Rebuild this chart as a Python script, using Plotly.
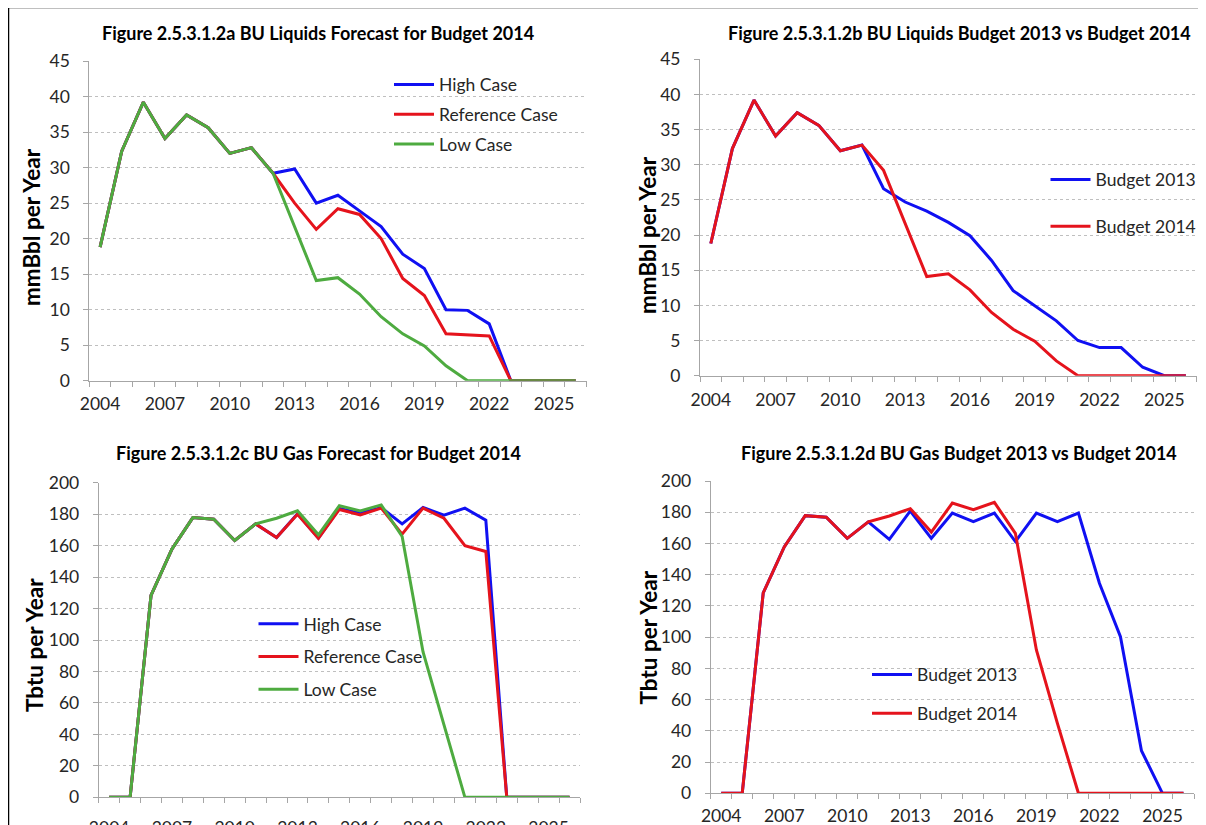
import plotly.graph_objects as go

# the page is drawn 8 px in from the window's top-left corner
OFF = 8
W, H = 1206 - OFF, 825 - OFF

years = list(range(2004, 2027))
tick_years = [2004, 2007, 2010, 2013, 2016, 2019, 2022, 2025]
tick_labels = ["2004", "2007", "2010", "2013", "2016", "2019", "2022", "2025"]

# Panel a: BU Liquids Forecast for Budget 2014 (mmBbl per year)
liq_high = [18.8, 32.3, 39.2, 34.1, 37.4, 35.6, 32.0, 32.8, 29.2, 29.8, 25.0, 26.1,
            23.9, 21.7, 17.8, 15.8, 10.0, 9.9, 8.0, 0, 0, 0, 0]
liq_ref = [18.8, 32.3, 39.2, 34.1, 37.4, 35.6, 32.0, 32.8, 29.2, 25.0, 21.3, 24.2,
           23.4, 20.0, 14.4, 12.0, 6.6, 6.4, 6.3, 0, 0, 0, 0]
liq_low = [18.8, 32.3, 39.2, 34.1, 37.4, 35.6, 32.0, 32.8, 29.2, 21.6, 14.1, 14.5,
           12.2, 9.0, 6.6, 4.9, 2.1, 0, 0, 0, 0, 0, 0]

# Panel b: BU Liquids Budget 2013 vs Budget 2014
liq_b2013 = [18.8, 32.3, 39.2, 34.1, 37.4, 35.6, 32.0, 32.8, 26.6, 24.7, 23.4, 21.8,
             19.9, 16.4, 12.1, 10.0, 7.8, 5.0, 4.0, 4.0, 1.2, 0, 0]
liq_b2014 = [18.8, 32.3, 39.2, 34.1, 37.4, 35.6, 32.0, 32.8, 29.2, 21.6, 14.1, 14.5,
             12.2, 9.0, 6.6, 4.9, 2.1, 0, 0, 0, 0, 0, 0]

# Panel c: BU Gas Forecast for Budget 2014 (Tbtu per year)
gas_high = [0, 0, 128.3, 157.8, 177.8, 176.8, 163.3, 173.8, 165.2, 180.3, 164.8, 183.6,
            180.6, 184.2, 173.8, 184.2, 179.4, 183.8, 176.2, 0, 0, 0, 0]
gas_ref = [0, 0, 128.3, 157.8, 177.8, 176.8, 163.3, 173.8, 165.2, 180.0, 164.6, 183.0,
           179.5, 183.8, 167.3, 183.8, 177.4, 160.0, 156.3, 0, 0, 0, 0]
gas_low = [0, 0, 128.3, 157.8, 177.8, 176.8, 163.3, 173.8, 177.4, 182.1, 166.9, 185.4,
           182.1, 185.9, 165.8, 92.4, 46.0, 0, 0, 0, 0, 0, 0]

# Panel d: BU Gas Budget 2013 vs Budget 2014
gas_b2013 = [0, 0, 128.3, 157.8, 177.8, 176.8, 163.3, 173.8, 162.6, 180.8, 163.3, 179.5,
             174.0, 179.5, 161.2, 179.5, 174.0, 179.5, 134.5, 100.3, 27.3, 0, 0]
gas_b2014 = [0, 0, 128.3, 157.8, 177.8, 176.8, 163.3, 173.8, 177.6, 182.3, 167.3, 185.9,
             181.6, 186.3, 166.5, 91.8, 44.8, 0, 0, 0, 0, 0, 0]

titles = [
    "Figure 2.5.3.1.2a BU Liquids Forecast for Budget 2014",
    "Figure 2.5.3.1.2b BU Liquids Budget 2013 vs Budget 2014",
    "Figure 2.5.3.1.2c BU Gas Forecast for Budget 2014",
    "Figure 2.5.3.1.2d BU Gas Budget 2013 vs Budget 2014",
]

BLUE = "#1010F2"
RED = "#E5131C"
GREEN = "#4EAB40"
FONT = "Lato"
TXT = "#262626"
AX = "#A6A6A6"

def px_x(p):
    return (p - OFF) / W

def px_y(p):
    return 1 - (p - OFF) / H

# plot-area pixel boxes in window pixels: (left, right, top, bottom)
boxes = [
    (89.3, 586.5, 61.0, 380.7),
    (700.0, 1196.7, 59.3, 375.7),
    (98.7, 580.0, 482.7, 797.3),
    (710.7, 1194.0, 481.0, 793.3),
]

fig = go.Figure()

panels = [
    ("x", "y", "legend", [("High Case", liq_high, BLUE), ("Reference Case", liq_ref, RED), ("Low Case", liq_low, GREEN)]),
    ("x2", "y2", "legend2", [("Budget 2013", liq_b2013, BLUE), ("Budget 2014", liq_b2014, RED)]),
    ("x3", "y3", "legend3", [("High Case", gas_high, BLUE), ("Reference Case", gas_ref, RED), ("Low Case", gas_low, GREEN)]),
    ("x4", "y4", "legend4", [("Budget 2013", gas_b2013, BLUE), ("Budget 2014", gas_b2014, RED)]),
]

for i, (xa, ya, lg, series) in enumerate(panels):
    for name, vals, col in series:
        fig.add_trace(go.Scatter(
            x=years, y=vals, mode="lines", name=name,
            line=dict(color=col, width=3),
            xaxis=xa, yaxis=ya, legend=lg, legendgroup=f"{lg}-{name}",
            hoverinfo="skip",
        ))

layout = dict(
    width=W, height=H, autosize=False,
    margin=dict(l=0, r=0, t=0, b=0, pad=0, autoexpand=False),
    paper_bgcolor="white", plot_bgcolor="white",
    font=dict(family=FONT, color=TXT, size=15),
    showlegend=True,
)

yranges = [(0, 45, 5), (0, 45, 5), (0, 200, 20), (0, 200, 20)]
standoffs = [7, 8, 15, 7]
for i, (l, r, t, b) in enumerate(boxes):
    k = "" if i == 0 else str(i + 1)
    ymin, ymax, dt = yranges[i]
    layout["xaxis" + k] = dict(
        domain=[px_x(l), min(1.0, px_x(r))], anchor="y" + k,
        range=[2003.5, 2026.5], tickmode="array",
        tickvals=tick_years, ticktext=tick_labels, ticks="",
        showgrid=False, zeroline=False, showline=True, linecolor=AX, linewidth=1,
        minor=dict(ticks="outside", tick0=2003.5, dtick=1, ticklen=5, tickcolor=AX, showgrid=False),
        tickfont=dict(family=FONT, size=17.5, color=TXT),
        ticklabelstandoff=standoffs[i], automargin=False,
        fixedrange=True,
    )
    layout["yaxis" + k] = dict(
        domain=[max(0.0, px_y(b)), px_y(t)], anchor="x" + k,
        range=[ymin, ymax], dtick=dt, tick0=0,
        ticks="outside", ticklen=5, tickcolor=AX,
        showgrid=True, gridcolor="#BFBFBF", griddash="dot", gridwidth=1,
        zeroline=False, showline=True, linecolor=AX, linewidth=1,
        tickfont=dict(family=FONT, size=17.5, color=TXT),
        ticklabelstandoff=10, automargin=False,
        fixedrange=True,
    )

# (line start x px, first item centre y px, gap between items)
legend_pos = [
    (395, 85, 4),
    (1051.5, 180, 21),
    (259.5, 624.3, 7),
    (873, 675, 13),
]
for i, (lx, cy, gap) in enumerate(legend_pos):
    k = "legend" if i == 0 else f"legend{i + 1}"
    layout[k] = dict(
        x=px_x(lx - 6), y=px_y(cy - 18.5), xanchor="left", yanchor="top",
        bgcolor="rgba(0,0,0,0)", borderwidth=0,
        font=dict(family=FONT, size=17.5, color=TXT),
        traceorder="grouped", tracegroupgap=gap, itemwidth=40,
    )

fig.update_layout(**layout)

title_pos = [(318, 33.3), (959, 33.3), (318, 453.3), (959, 453.3)]
annotations = []
for (cx, cy), t in zip(title_pos, titles):
    annotations.append(dict(
        text=f"<b>{t}</b>", x=px_x(cx), y=px_y(cy), xref="paper", yref="paper",
        xanchor="center", yanchor="middle", showarrow=False,
        font=dict(family=FONT, size=18, color="#000000"),
    ))

ytitles = [("mmBbl per Year", 32, 227), ("mmBbl per Year", 647, 235),
           ("Tbtu per Year", 34, 645), ("Tbtu per Year", 648, 637.5)]
for t, cx, cy in ytitles:
    annotations.append(dict(
        text=f"<b>{t}</b>", x=px_x(cx), y=px_y(cy), xref="paper", yref="paper",
        xanchor="center", yanchor="middle", showarrow=False, textangle=-90,
        font=dict(family=FONT, size=22.5, color="#000000"),
    ))
fig.update_layout(annotations=annotations)

# outer frame lines (top and left) of the original page
fig.add_shape(type="line", xref="paper", yref="paper", x0=px_x(8.5), x1=1, y0=px_y(7.5), y1=px_y(7.5),
              line=dict(color="#000000", width=1.5))
fig.add_shape(type="line", xref="paper", yref="paper", x0=px_x(8.5), x1=px_x(8.5), y0=0, y1=px_y(7.5),
              line=dict(color="#000000", width=1.5))

fig.write_html("out.html")
